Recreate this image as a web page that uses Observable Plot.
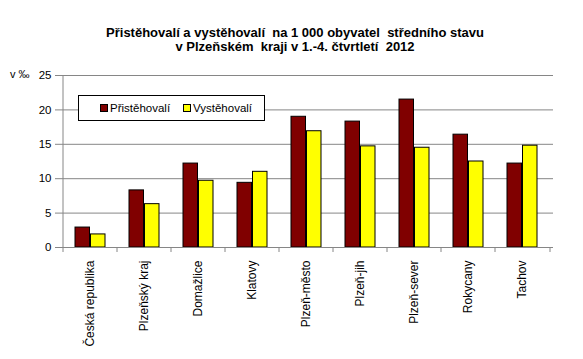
<!DOCTYPE html>
<html><head><meta charset="utf-8">
<script src="https://cdn.jsdelivr.net/npm/d3@7"></script>
<script src="https://cdn.jsdelivr.net/npm/@observablehq/plot@0.6"></script>
<style>
body{margin:0;background:#fff;font-family:"Liberation Sans",Arial,sans-serif}
#wrap{position:relative;width:583px;height:359px;overflow:hidden}
#title{position:absolute;left:95px;width:400px;top:26px;text-align:center;font-weight:bold;font-size:13px;line-height:14px;color:#000;white-space:pre}
#ylab{position:absolute;left:10px;top:68px;font-size:11px;color:#000}
#legend{position:absolute;left:78px;top:95px;width:187px;height:26px;border:1px solid #000;background:#fff;box-sizing:border-box;font-size:11.5px;color:#000}
.it{position:absolute;top:5px;display:flex;align-items:center;height:14px}
.sw{width:6px;height:6px;border:1px solid #000;margin-right:2px}
#plot{position:absolute;left:0;top:0}
</style></head><body>
<div id="wrap">
<div id="plot"></div>
<div id="title"></div>
<div id="ylab">v ‰</div>
<div id="legend"></div>
</div>
<script>
const categories = ["Česká republika","Plzeňský kraj","Domažlice","Klatovy","Plzeň-město","Plzeň-jih","Plzeň-sever","Rokycany","Tachov"];
const pristehovali = [2.9, 8.3, 12.2, 9.4, 19.0, 18.3, 21.5, 16.4, 12.2];
const vystehovali = [1.9, 6.3, 9.7, 11.0, 16.9, 14.7, 14.5, 12.5, 14.8];
const seriesNames = ["Přistěhovalí", "Vystěhovalí"];
const seriesColors = ["#800000", "#ffff00"];
const yTicks = [0, 5, 10, 15, 20, 25];
const titleLines = ["Přistěhovalí a vystěhovalí  na 1 000 obyvatel  středního stavu", "v Plzeňském  kraji v 1.-4. čtvrtletí  2012"];

document.getElementById("title").textContent = titleLines.join("\n");
const leg = document.getElementById("legend");
const legX = [21, 104];
seriesNames.forEach((n, i) => {
  const d = document.createElement("div");
  d.className = "it"; d.style.left = legX[i] + "px";
  const s = document.createElement("div"); s.className = "sw"; s.style.background = seriesColors[i];
  d.appendChild(s); d.appendChild(document.createTextNode(n));
  leg.appendChild(d);
});

const data = categories.map((c, i) => ({c, p: pristehovali[i], v: vystehovali[i]}));
const grid = "#868686";
const plot = Plot.plot({
  width: 583, height: 359,
  marginLeft: 59, marginRight: 30, marginTop: 75, marginBottom: 112,
  style: {fontFamily: '"Liberation Sans", Arial, sans-serif', fontSize: "11px", color: "#000", background: "transparent", overflow: "visible"},
  x: {domain: categories, padding: 0, label: null},
  y: {domain: [0, 25], label: null},
  marks: [
    Plot.gridY(yTicks, {stroke: grid, strokeOpacity: 1}),
    Plot.barY(data, {x: "c", y: "p", fill: seriesColors[0], stroke: "#000", strokeWidth: 1, insetLeft: 12, insetRight: 27.5}),
    Plot.barY(data, {x: "c", y: "v", fill: seriesColors[1], stroke: "#000", strokeWidth: 1, insetLeft: 27.5, insetRight: 12}),
    Plot.ruleY([0], {stroke: grid}),
    Plot.ruleX([categories[0]], {dx: -27.5, y1: 0, y2: 25, stroke: grid}),
    Plot.axisY({ticks: yTicks, tickSize: 4, tickPadding: 4, stroke: grid, label: null, fontSize: 11.5}),
    Plot.axisX({text: null, tickSize: 5, dx: -27.5, stroke: grid, label: null}),
    Plot.axisX({ticks: [categories[categories.length - 1]], text: null, tickSize: 5, dx: 27.5, stroke: grid, label: null}),
    Plot.axisX({tickSize: 0, tickRotate: -90, tickPadding: 13, label: null, fontSize: 12})
  ]
});
document.getElementById("plot").appendChild(plot);
</script>
</body></html>
